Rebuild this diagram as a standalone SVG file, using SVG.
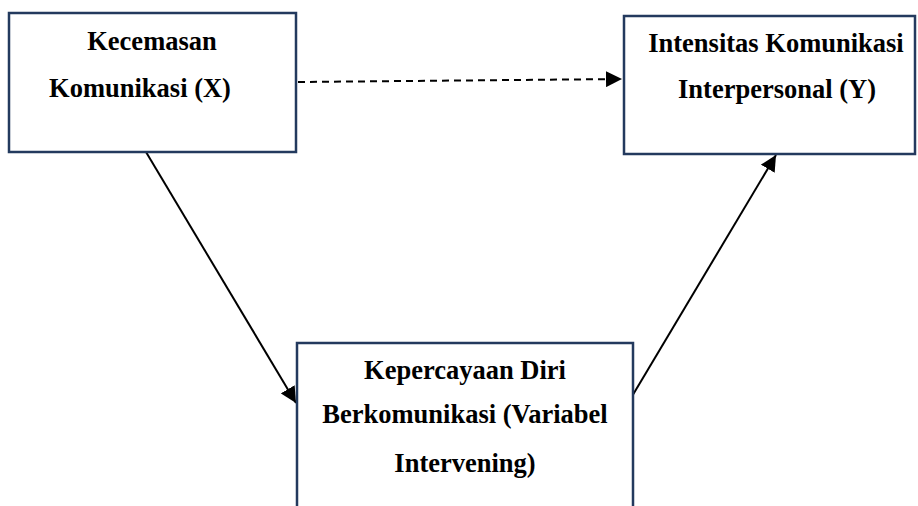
<svg xmlns="http://www.w3.org/2000/svg" width="918" height="506" viewBox="0 0 918 506">
<style>
.box{fill:#fff;stroke:#233a5e;stroke-width:2.5}
.t{font-family:"Liberation Serif","Times New Roman",serif;font-weight:bold;font-size:26.5px;fill:#000;text-anchor:middle}
.c{stroke:#000;stroke-width:2;fill:none}
</style>
<defs>
<marker id="a" viewBox="0 0 10 10" refX="10" refY="5" markerWidth="8" markerHeight="8" orient="auto">
<path d="M0,0 L10,5 L0,10 z" fill="#000"/>
</marker>
</defs>
<rect width="918" height="506" fill="#fff"/>
<g id="connectors">
<line class="c" x1="298" y1="82" x2="622" y2="79" stroke-dasharray="7,5" marker-end="url(#a)"/>
<line class="c" x1="146" y1="152" x2="296" y2="403" marker-end="url(#a)"/>
<line class="c" x1="631" y1="398" x2="776" y2="155" marker-end="url(#a)"/>
</g>
<g id="node-x">
<rect class="box" x="9" y="13" width="287" height="139"/>
<text class="t" x="152" y="50">Kecemasan</text>
<text class="t" x="140" y="97">Komunikasi (X)</text>
</g>
<g id="node-y">
<rect class="box" x="624" y="16" width="291" height="138"/>
<text class="t" x="776" y="52">Intensitas Komunikasi</text>
<text class="t" x="777" y="98">Interpersonal (Y)</text>
</g>
<g id="node-m">
<rect class="box" x="297" y="343" width="336" height="170"/>
<text class="t" x="465" y="379">Kepercayaan Diri</text>
<text class="t" x="465" y="423">Berkomunikasi (Variabel</text>
<text class="t" x="465" y="472">Intervening)</text>
</g>
</svg>
